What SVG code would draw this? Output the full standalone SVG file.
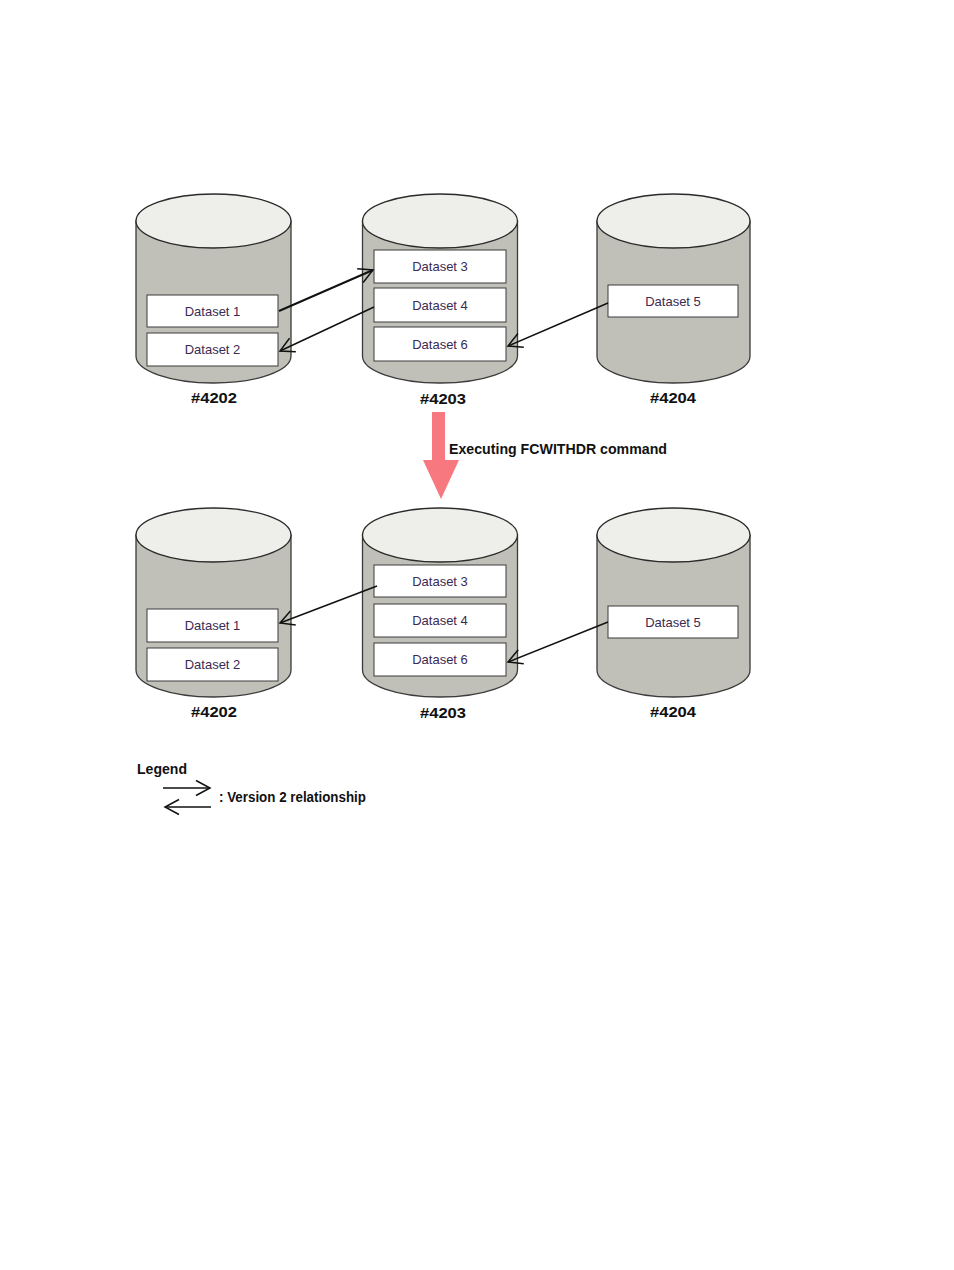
<svg xmlns="http://www.w3.org/2000/svg" width="954" height="1270" viewBox="0 0 954 1270">
<style>
.body{fill:#c0c0b8;stroke:#3a3a3a;stroke-width:1.3}
.top{fill:#eeeeea;stroke:#2a2a2a;stroke-width:1.3}
.ds{fill:#ffffff;stroke:#3a3a3a;stroke-width:1}
.dst{font-family:"Liberation Sans",Arial,sans-serif;font-size:13px;fill:#3a2a55;text-anchor:middle}
.lbl{font-family:"Liberation Sans",Arial,sans-serif;font-size:15px;font-weight:bold;fill:#111;text-anchor:middle}
.bold{font-family:"Liberation Sans",Arial,sans-serif;font-size:14px;font-weight:bold;fill:#111}
.conn{stroke:#111;stroke-width:1.5;fill:none;marker-end:url(#oa)}
</style>
<defs>
<marker id="oa" markerUnits="userSpaceOnUse" markerWidth="20" markerHeight="20" viewBox="-16 -10 20 20" refX="0" refY="0" orient="auto">
<path d="M-14,-7.5 L0,0 L-14,7.5" fill="none" stroke="#111" stroke-width="1.5"/>
</marker>
</defs>
<rect width="954" height="1270" fill="#ffffff"/>

<!-- Top row -->
<g id="cyl4202a">
<path class="body" d="M136,221 V356 A77.5,27 0 0 0 291,356 V221 Z"/>
<ellipse class="top" cx="213.5" cy="221" rx="77.5" ry="27"/>
<rect class="ds" x="147" y="295" width="131" height="32"/>
<text class="dst" x="212.5" y="315.5">Dataset 1</text>
<rect class="ds" x="147" y="333" width="131" height="33"/>
<text class="dst" x="212.5" y="354">Dataset 2</text>
<text class="lbl" x="214" y="403" textLength="46" lengthAdjust="spacingAndGlyphs">#4202</text>
</g>
<g id="cyl4203a">
<path class="body" d="M362.5,221 V356 A77.5,27 0 0 0 517.5,356 V221 Z"/>
<ellipse class="top" cx="440" cy="221" rx="77.5" ry="27"/>
<rect class="ds" x="374" y="250" width="132" height="33"/>
<text class="dst" x="440" y="271">Dataset 3</text>
<rect class="ds" x="374" y="288" width="132" height="34"/>
<text class="dst" x="440" y="309.5">Dataset 4</text>
<rect class="ds" x="374" y="327" width="132" height="34"/>
<text class="dst" x="440" y="348.5">Dataset 6</text>
<text class="lbl" x="443" y="404" textLength="46" lengthAdjust="spacingAndGlyphs">#4203</text>
</g>
<g id="cyl4204a">
<path class="body" d="M597,221 V356 A76.5,27 0 0 0 750,356 V221 Z"/>
<ellipse class="top" cx="673.5" cy="221" rx="76.5" ry="27"/>
<rect class="ds" x="608" y="285" width="130" height="32"/>
<text class="dst" x="673" y="305.5">Dataset 5</text>
<text class="lbl" x="673" y="403" textLength="46" lengthAdjust="spacingAndGlyphs">#4204</text>
</g>

<!-- Command arrow -->
<g id="command">
<path d="M432,412 H445 V460 H459 L441,499 L423,460 H432 Z" fill="#f7787f"/>
<text class="bold" x="449" y="454" textLength="218" lengthAdjust="spacingAndGlyphs">Executing FCWITHDR command</text>
</g>

<!-- Bottom row -->
<g id="cyl4202b">
<path class="body" d="M136,535 V670 A77.5,27 0 0 0 291,670 V535 Z"/>
<ellipse class="top" cx="213.5" cy="535" rx="77.5" ry="27"/>
<rect class="ds" x="147" y="609" width="131" height="33"/>
<text class="dst" x="212.5" y="630">Dataset 1</text>
<rect class="ds" x="147" y="648" width="131" height="33"/>
<text class="dst" x="212.5" y="669">Dataset 2</text>
<text class="lbl" x="214" y="717" textLength="46" lengthAdjust="spacingAndGlyphs">#4202</text>
</g>
<g id="cyl4203b">
<path class="body" d="M362.5,535 V670 A77.5,27 0 0 0 517.5,670 V535 Z"/>
<ellipse class="top" cx="440" cy="535" rx="77.5" ry="27"/>
<rect class="ds" x="374" y="565" width="132" height="32"/>
<text class="dst" x="440" y="585.5">Dataset 3</text>
<rect class="ds" x="374" y="604" width="132" height="33"/>
<text class="dst" x="440" y="625">Dataset 4</text>
<rect class="ds" x="374" y="643" width="132" height="33"/>
<text class="dst" x="440" y="664">Dataset 6</text>
<text class="lbl" x="443" y="718" textLength="46" lengthAdjust="spacingAndGlyphs">#4203</text>
</g>
<g id="cyl4204b">
<path class="body" d="M597,535 V670 A76.5,27 0 0 0 750,670 V535 Z"/>
<ellipse class="top" cx="673.5" cy="535" rx="76.5" ry="27"/>
<rect class="ds" x="608" y="606" width="130" height="32"/>
<text class="dst" x="673" y="626.5">Dataset 5</text>
<text class="lbl" x="673" y="717" textLength="46" lengthAdjust="spacingAndGlyphs">#4204</text>
</g>

<!-- Connectors -->
<g id="connectors">
<line class="conn" x1="279" y1="311" x2="373" y2="270" style="stroke-width:2"/>
<line class="conn" x1="374" y1="307" x2="280" y2="351"/>
<line class="conn" x1="608" y1="303" x2="508" y2="346"/>
<line class="conn" x1="377" y1="586" x2="280" y2="623"/>
<line class="conn" x1="608" y1="622" x2="508" y2="662"/>
</g>

<!-- Legend -->
<g id="legend">
<text class="bold" x="137" y="774" textLength="50" lengthAdjust="spacingAndGlyphs">Legend</text>
<line class="conn" x1="163" y1="788" x2="210" y2="788"/>
<line class="conn" x1="211" y1="807" x2="165" y2="807"/>
<text class="bold" x="219" y="802" textLength="147" lengthAdjust="spacingAndGlyphs">: Version 2 relationship</text>
</g>
</svg>
